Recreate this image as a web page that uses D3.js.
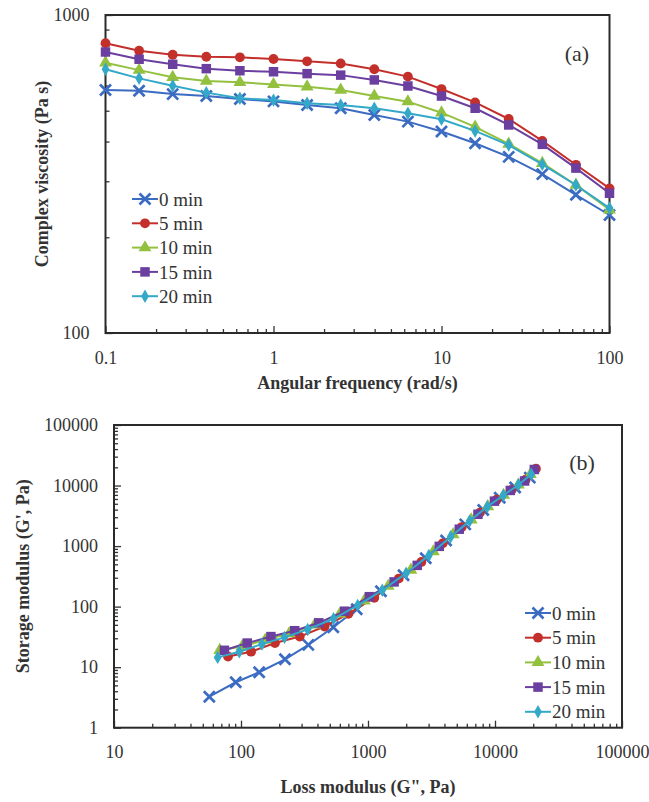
<!DOCTYPE html>
<html>
<head>
<meta charset="utf-8">
<script src="https://cdn.jsdelivr.net/npm/d3@7"></script>
<style>
  body { margin: 0; background: #fff; }
</style>
</head>
<body>
<svg id="chart" width="649" height="802"></svg>
<script>
// series names, shared by both panels
const seriesNames = ['0 min', '5 min', '10 min', '15 min', '20 min'];
const seriesColors = ['#3b6cc2', '#c3302c', '#93c13f', '#6b3f9f', '#34a8c8'];
const seriesShapes = ['x', 'circle', 'triangle', 'square', 'diamond'];

// (a) angular frequency, rad/s
const freq = [0.1, 0.1585, 0.2512, 0.3981, 0.631, 1, 1.585, 2.512, 3.981, 6.31, 10, 15.85, 25.12, 39.81, 63.1, 100];
// (a) complex viscosity, Pa s
const visc0 = [581, 578, 564, 556, 544, 535, 521, 509, 485, 462, 430, 395, 358, 316, 272, 235];
const visc5 = [815, 772, 750, 739, 736, 727, 715, 704, 675, 640, 585, 531, 471, 402, 338, 285];
const visc10 = [708, 671, 637, 620, 614, 605, 595, 581, 556, 534, 493, 445, 393, 342, 292, 244];
const visc15 = [765, 726, 700, 678, 668, 663, 654, 647, 625, 598, 556, 509, 451, 392, 330, 275];
const visc20 = [675, 632, 599, 570, 547, 540, 528, 521, 509, 491, 470, 432, 390, 339, 292, 247];

// (b) loss modulus G'' (Pa)
const loss0 = [56.3, 90.9, 139, 222, 339, 533, 815, 1265, 1905, 2850, 4120, 5830, 8080, 10900, 14400, 18800];
const loss5 = [79, 120, 185, 290, 455, 700, 1120, 1745, 2630, 3880, 5470, 7620, 10300, 13550, 17400, 21000];
const loss10 = [68, 102, 155, 240, 380, 600, 935, 1442, 2175, 3270, 4680, 6500, 8770, 11700, 15300, 19000];
const loss15 = [74, 112, 172, 265, 410, 655, 1025, 1605, 2440, 3640, 5230, 7340, 9900, 13200, 17100, 20400];
const loss20 = [65.5, 97, 146, 220, 335, 535, 830, 1295, 1995, 3015, 4475, 6320, 8710, 11620, 15300, 19300];
// (b) storage modulus G' (Pa)
const stor0 = [3.25, 5.63, 8.24, 13.5, 23.3, 45.6, 90.6, 179, 330, 630, 1240, 2280, 3950, 6300, 9300, 13500];
const stor5 = [15, 18, 25, 32, 47, 76, 140, 290, 545, 1110, 2060, 3580, 5840, 8500, 12500, 19000];
const stor10 = [19, 22, 28, 36, 50, 76, 125, 218, 402, 810, 1550, 2730, 4520, 6950, 10300, 15300];
const stor15 = [19, 25, 32, 40, 54, 84, 146, 256, 480, 990, 1900, 3350, 5520, 8300, 11900, 18400];
const stor20 = [14.5, 18, 24, 31, 42, 63, 105, 186, 355, 700, 1430, 2610, 4480, 6860, 10300, 15400];

// tick labels
const aXTicks = [0.1, 1, 10, 100];
const aXLabels = ['0.1', '1', '10', '100'];
const aYTicks = [100, 1000];
const aYLabels = ['100', '1000'];
const bXTicks = [10, 100, 1000, 10000, 100000];
const bXLabels = ['10', '100', '1000', '10000', '100000'];
const bYTicks = [1, 10, 100, 1000, 10000, 100000];
const bYLabels = ['1', '10', '100', '1000', '10000', '100000'];

const serif = '"Liberation Serif", "Times New Roman", Times, serif';
const svg = d3.select('#chart');

// minor ticks 2..9 for each decade in a domain
function minorTicks(lo, hi) {
  const out = [];
  for (let d = lo; d < hi; d *= 10) {
    for (let k = 2; k <= 9; k++) out.push(d * k);
  }
  return out;
}

function marker(g, shape, color, s) {
  if (shape === 'x') {
    const h = s / 2;
    g.append('path')
      .attr('d', `M${-h},${-h}L${h},${h}M${-h},${h}L${h},${-h}`)
      .attr('stroke', color).attr('stroke-width', 2.7).attr('fill', 'none');
    return;
  }
  const typ = { circle: d3.symbolCircle, square: d3.symbolSquare, triangle: d3.symbolTriangle, diamond: d3.symbolDiamond }[shape];
  const area = { circle: 76, square: 90, triangle: 72, diamond: 52 }[shape];
  g.append('path').attr('d', d3.symbol(typ, area)()).attr('fill', color);
}

function label(sel, size, bold) {
  sel.style('font-family', serif).style('font-size', size + 'px')
    .style('font-weight', bold ? 'bold' : 'normal').style('fill', '#333');
}

function panel(cfg) {
  const { x, y } = cfg;
  const [x0, x1] = x.range();
  const [y0, y1] = y.range();
  const g = svg.append('g');

  // minor ticks
  g.append('g').attr('transform', `translate(0,${y0})`)
    .call(d3.axisBottom(x).tickValues(minorTicks(x.domain()[0], x.domain()[1])).tickSize(-4).tickFormat(''))
    .call(a => a.select('.domain').remove());
  g.append('g').attr('transform', `translate(${x0},0)`)
    .call(d3.axisLeft(y).tickValues(minorTicks(y.domain()[0], y.domain()[1])).tickSize(-4).tickFormat(''))
    .call(a => a.select('.domain').remove());

  // major ticks
  g.append('g').attr('transform', `translate(0,${y0})`)
    .call(d3.axisBottom(x).tickValues(cfg.xTicks).tickSize(-7).tickPadding(18)
      .tickFormat((d, i) => cfg.xLabels[i]))
    .call(a => a.select('.domain').remove())
    .call(a => label(a.selectAll('text'), 18));
  g.append('g').attr('transform', `translate(${x0},0)`)
    .call(d3.axisLeft(y).tickValues(cfg.yTicks).tickSize(-7).tickPadding(16)
      .tickFormat((d, i) => cfg.yLabels[i]))
    .call(a => a.select('.domain').remove())
    .call(a => label(a.selectAll('text'), 18));
  g.selectAll('.tick line').attr('stroke', '#333').attr('stroke-width', 1.3);

  // frame
  g.append('rect')
    .attr('x', x0).attr('y', y1).attr('width', x1 - x0).attr('height', y0 - y1)
    .attr('fill', 'none').attr('stroke', '#2a2a2a').attr('stroke-width', 2);

  // series
  const line = d3.line().x(d => x(d[0])).y(d => y(d[1]));
  cfg.series.forEach((pts, i) => {
    const s = g.append('g');
    s.append('path').datum(pts).attr('d', line)
      .attr('fill', 'none').attr('stroke', seriesColors[i]).attr('stroke-width', 2);
    pts.forEach(p => {
      marker(s.append('g').attr('transform', `translate(${x(p[0])},${y(p[1])})`),
        seriesShapes[i], seriesColors[i], 11);
    });
  });

  // legend
  const lg = g.append('g').attr('transform', `translate(${cfg.legend[0]},${cfg.legend[1]})`);
  seriesNames.forEach((name, i) => {
    const row = lg.append('g').attr('transform', `translate(0,${i * cfg.legendStep})`);
    row.append('line').attr('x1', 0).attr('x2', 26)
      .attr('stroke', seriesColors[i]).attr('stroke-width', 2);
    marker(row.append('g').attr('transform', 'translate(13,0)'), seriesShapes[i], seriesColors[i], 11);
    row.append('text').attr('x', 27).attr('dy', '0.35em').text(name)
      .call(t => label(t, 19));
  });

  // panel letter
  g.append('text').attr('x', cfg.letter[0]).attr('y', cfg.letter[1])
    .attr('text-anchor', 'middle').attr('dy', '0.35em').text(cfg.letterText)
    .call(t => label(t, 22));

  // axis titles
  g.append('text')
    .attr('x', (x0 + x1) / 2).attr('y', cfg.xTitleY).attr('text-anchor', 'middle')
    .text(cfg.xTitle).call(t => label(t, 18, true));
  g.append('text')
    .attr('transform', `translate(${cfg.yTitleX},${(y0 + y1) / 2}) rotate(-90)`)
    .attr('text-anchor', 'middle').text(cfg.yTitle).call(t => label(t, 18, true));
}

const viscSeries = [visc0, visc5, visc10, visc15, visc20].map(v => v.map((d, i) => [freq[i], d]));
panel({
  x: d3.scaleLog().domain([0.1, 100]).range([105.5, 609.5]),
  y: d3.scaleLog().domain([100, 1000]).range([333, 15]),
  xTicks: aXTicks, xLabels: aXLabels, yTicks: aYTicks, yLabels: aYLabels,
  series: viscSeries,
  legend: [132, 199], legendStep: 24.3,
  letter: [577, 53], letterText: '(a)',
  xTitle: 'Angular frequency (rad/s)', xTitleY: 389,
  yTitle: 'Complex viscosity (Pa s)', yTitleX: 48
});

const lossS = [loss0, loss5, loss10, loss15, loss20];
const storS = [stor0, stor5, stor10, stor15, stor20];
panel({
  x: d3.scaleLog().domain([10, 100000]).range([114, 622]),
  y: d3.scaleLog().domain([1, 100000]).range([727.7, 425]),
  xTicks: bXTicks, xLabels: bXLabels, yTicks: bYTicks, yLabels: bYLabels,
  series: lossS.map((l, k) => l.map((d, i) => [d, storS[k][i]])),
  legend: [525, 613], legendStep: 24.7,
  letter: [582, 462], letterText: '(b)',
  xTitle: 'Loss modulus (G", Pa)', xTitleY: 793,
  yTitle: "Storage modulus (G', Pa)", yTitleX: 29
});
</script>
</body>
</html>
